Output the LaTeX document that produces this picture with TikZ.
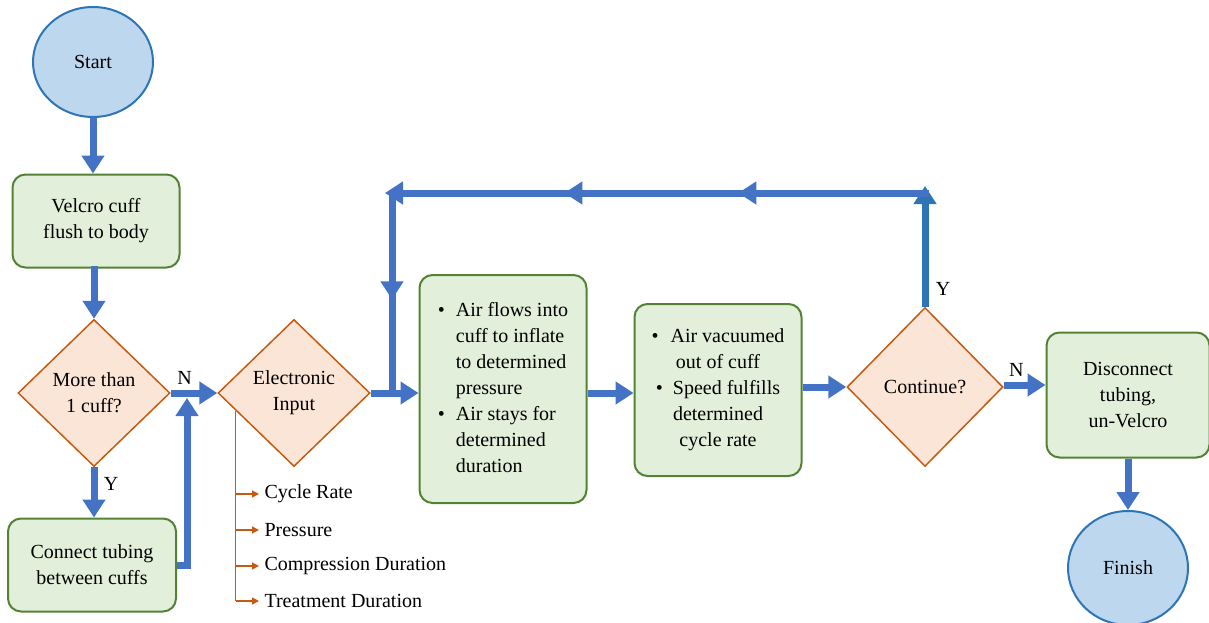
\documentclass[tikz,border=0pt]{standalone}
\usepackage{fontspec}
\setmainfont{Liberation Serif}
\newfontfamily\chartfont{Liberation Serif}
\usetikzlibrary{shapes.geometric,arrows.meta,calc,decorations.markings}

\definecolor{flowblue}{HTML}{4472C4}
\definecolor{loopblue}{HTML}{2E75B6}
\definecolor{termline}{HTML}{2E75B6}
\definecolor{termfill}{HTML}{BDD7EE}
\definecolor{boxline}{HTML}{548235}
\definecolor{boxfill}{HTML}{E2EFDA}
\definecolor{decline}{HTML}{C55A11}
\definecolor{decfill}{HTML}{FBE5D6}

\begin{document}
\begin{tikzpicture}
[
x=1pt, y=-1pt,
every node/.style={font=\chartfont\fontsize{20}{26}\selectfont, text=black},
terminal/.style={ellipse, draw=termline, fill=termfill, line width=2pt, minimum width=120pt, minimum height=110pt},
process/.style={rectangle, rounded corners=13pt, draw=boxline, fill=boxfill, line width=2pt, align=center, inner sep=0pt},
decision/.style={diamond, draw=decline, fill=decfill, line width=1.5pt, minimum width=152pt, minimum height=147pt, inner sep=0pt, align=center},
flow/.style={line width=7pt, flowblue, -{Triangle[length=18pt,width=22pt]}},
plain flow/.style={line width=7pt, flowblue},
param/.style={decline, line width=1.5pt, -{Triangle[length=7pt,width=7pt]}}
]
\useasboundingbox (0,0) rectangle (1209,623);

% left column
\node[terminal] (start) at (93,62) {Start};
\node[process, minimum width=167pt, minimum height=93pt] (velcro) at (96,221) {Velcro cuff\\flush to body};
\node[decision] (more) at (94,393) {More than\\1 cuff?};
\node[process, minimum width=168pt, minimum height=93pt] (connect) at (92,565) {Connect tubing\\between cuffs};

% middle row
\node[decision] (elec) at (294,393) {Electronic\\Input};
\node[process, minimum width=167pt, minimum height=228pt] (inflate) at (503,389)
  {\begin{tabular}{@{}c@{\hspace{11pt}}l@{}}
   \textbullet & Air flows into\\ & cuff to inflate\\ & to determined\\ & pressure\\
   \textbullet & Air stays for\\ & determined\\ & duration
   \end{tabular}};
\node[process, minimum width=167pt, minimum height=172pt] (vacuum) at (718,390)
  {\textbullet\hspace{12pt}Air vacuumed\\out of cuff\\\textbullet\hspace{10pt}Speed fulfills\\determined\\cycle rate};
\node[decision, minimum width=156pt, minimum height=159pt] (cont) at (925,387) {Continue?};
\node[process, minimum width=163pt, minimum height=125pt] (disc) at (1128,395) {Disconnect\\tubing,\\un-Velcro};
\node[terminal, minimum height=114pt] (finish) at (1128,568) {Finish};

% electronic input parameters
\node[anchor=west] (cr) at (261,494) {Cycle Rate};
\node[anchor=west] (pr) at (261,530) {Pressure};
\node[anchor=west] (cd) at (261,566) {Compression Duration};
\node[anchor=west] (td) at (261,601) {Treatment Duration};
\coordinate (sp) at ($(elec.west)!0.24!(elec.south)$);
\draw[decline, line width=1.5pt] (sp) -- (sp |- td.west);
\foreach \n in {cr,pr,cd,td}
  \draw[param] (sp |- \n.west) -- ([xshift=-2pt]\n.west);

% main flow
\draw[flow] (start.south |- velcro.north) ++(0,-56) -- (start.south |- velcro.north);
\draw[flow] (more.north) ++(0,-53) -- (more.north);
\draw[flow] (more.east) -- node[above=2pt, pos=.3] {N} (elec.west);
\draw[flow] (more.south) -- node[right=3pt, pos=.33] {Y} (more.south |- connect.north);
\coordinate (join) at (187,398);
\draw[flow, line join=miter] (connect.east) -| (join);
\draw[flow] (elec.east) -- (elec.east -| inflate.west);
\draw[flow] (inflate.east |- 0,393) -- (vacuum.west |- 0,393);
\draw[flow] (vacuum.east |- 0,387) -- (cont.west);
\draw[flow] (cont.east |- 0,385) -- node[above=2pt, pos=.3] {N} (disc.west |- 0,385);
\draw[flow] (disc.south) -- (finish.north);

% repeat loop
\coordinate (tr) at (925,186);
\coordinate (tl) at (385,193);
\coordinate (back) at (392,393);
\draw[flow, loopblue] (cont.north) -- node[right=4pt, pos=.15] {Y} (tr);
\draw[flow, postaction={decorate}, decoration={markings,
    mark=at position 0.35 with {\arrow{Triangle[length=18pt,width=22pt]}},
    mark=at position 0.67 with {\arrow{Triangle[length=18pt,width=22pt]}}}]
  (928.5,193) -- (tl);
\draw[plain flow, postaction={decorate}, decoration={markings,
    mark=at position 0.54 with {\arrow{Triangle[length=18pt,width=22pt]}}}]
  (392,189.5) -- (back);
\end{tikzpicture}
\end{document}
